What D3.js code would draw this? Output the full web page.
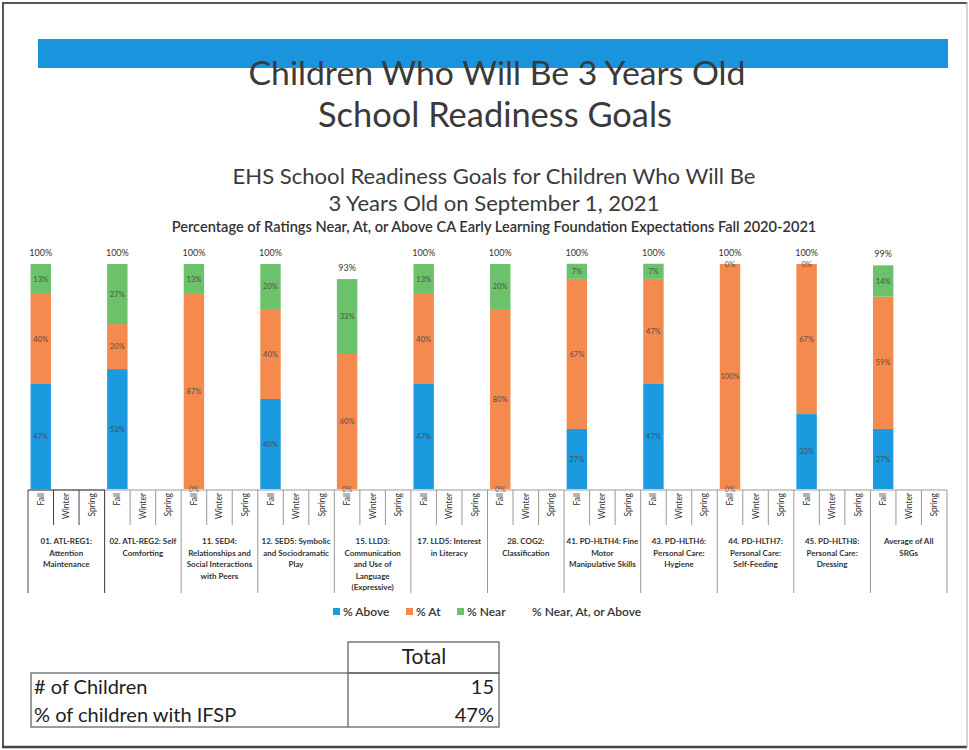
<!DOCTYPE html>
<html>
<head>
<meta charset="utf-8">
<script src="https://cdn.jsdelivr.net/npm/d3@7"></script>
<style>
  html, body { margin: 0; padding: 0; background: #fff; }
  svg { display: block; font-family: Lato, "Open Sans", sans-serif; }
</style>
</head>
<body>
<svg id="chart" width="969" height="750"></svg>
<script>
// ---------------- DATA ----------------
const categoryLabels = [
  ["01. ATL-REG1:", "Attention", "Maintenance"],
  ["02. ATL-REG2: Self", "Comforting"],
  ["11. SED4:", "Relationships and", "Social Interactions", "with Peers"],
  ["12. SED5: Symbolic", "and Sociodramatic", "Play"],
  ["15. LLD3:", "Communication", "and Use of", "Language", "(Expressive)"],
  ["17. LLD5: Interest", "in Literacy"],
  ["28. COG2:", "Classification"],
  ["41. PD-HLTH4: Fine", "Motor", "Manipulative Skills"],
  ["43. PD-HLTH6:", "Personal Care:", "Hygiene"],
  ["44. PD-HLTH7:", "Personal Care:", "Self-Feeding"],
  ["45. PD-HLTH8:", "Personal Care:", "Dressing"],
  ["Average of All", "SRGs"]
];
const seasons = ["Fall", "Winter", "Spring"];
// Fall values (Winter / Spring not yet rated)
const pctAbove = [46.7, 53.3, 0, 40, 0, 46.7, 0, 26.7, 46.7, 0, 33.3, 26.7];
const pctAt    = [40, 20, 86.7, 40, 60, 40, 80, 66.7, 46.7, 100, 66.7, 58.8];
const pctNear  = [13.3, 26.7, 13.3, 20, 33.3, 13.3, 20, 6.7, 6.7, 0, 0, 13.9];
const pctTotal = [100, 100, 100, 100, 93.3, 100, 100, 100, 100, 100, 100, 99.4];
const seriesNames = ["% Above", "% At", "% Near", "% Near, At, or Above"];
const seriesColors = ["#1b9ae0", "#f58a4e", "#6cc26a", null];

const titleLines = ["Children Who Will Be 3 Years Old", "School Readiness Goals"];
const chartTitleLines = ["EHS School Readiness Goals for Children Who Will Be", "3 Years Old on September 1, 2021"];
const chartSubtitle = "Percentage of Ratings Near, At, or Above CA Early Learning Foundation Expectations Fall 2020-2021";

const tableHeader = "Total";
const tableRowLabels = ["# of Children", "% of children with IFSP"];
const tableRowValues = ["15", "47%"];

// ---------------- DRAW ----------------
const svg = d3.select("#chart");
const fmt = d3.format(".0%");

function fitText(sel, targetWidth) {
  const node = sel.node();
  const fs = parseFloat(sel.attr("font-size"));
  const len = node.getComputedTextLength();
  if (len > 0) sel.attr("font-size", (fs * targetWidth / len).toFixed(2));
  return sel;
}

// page frame (scanned page edge)
svg.append("line").attr("x1", 2).attr("x2", 967).attr("y1", 3).attr("y2", 3).attr("stroke", "#555").attr("stroke-width", 2);
svg.append("line").attr("x1", 3).attr("x2", 3).attr("y1", 2).attr("y2", 748).attr("stroke", "#555").attr("stroke-width", 2);
svg.append("line").attr("x1", 2).attr("x2", 967).attr("y1", 747).attr("y2", 747).attr("stroke", "#444").attr("stroke-width", 2.5);
svg.append("line").attr("x1", 967).attr("x2", 967).attr("y1", 2).attr("y2", 748).attr("stroke", "#aaa").attr("stroke-width", 1);

// blue banner
svg.append("rect").attr("x", 38).attr("y", 39).attr("width", 910).attr("height", 29).attr("fill", "#1a94dc");

// slide titles
const t1 = svg.append("text").attr("x", 497).attr("y", 85).attr("text-anchor", "middle")
  .attr("font-size", 31).attr("fill", "#3a3a3a").text(titleLines[0]);
fitText(t1, 497);
const t2 = svg.append("text").attr("x", 495).attr("y", 127).attr("text-anchor", "middle")
  .attr("font-size", 31).attr("fill", "#3a3a3a").text(titleLines[1]);
fitText(t2, 354);

// chart titles
const c1 = svg.append("text").attr("x", 494).attr("y", 184).attr("text-anchor", "middle")
  .attr("font-size", 20).attr("fill", "#3a3a3a").text(chartTitleLines[0]);
fitText(c1, 523);
const c2 = svg.append("text").attr("x", 494).attr("y", 211).attr("text-anchor", "middle")
  .attr("font-size", 20).attr("fill", "#3a3a3a").text(chartTitleLines[1]);
fitText(c2, 331);
const c3 = svg.append("text").attr("x", 494).attr("y", 232).attr("text-anchor", "middle")
  .attr("font-size", 12).attr("font-weight", 600).attr("fill", "#333").text(chartSubtitle);
fitText(c3, 645);

// scales
const x = d3.scaleBand().domain(d3.range(categoryLabels.length)).range([28, 947]).padding(0);
const xs = d3.scaleBand().domain(seasons).range([0, x.bandwidth()]).padding(0);
const barW = xs.bandwidth() * 0.8;
const y = d3.scaleLinear().domain([0, 100]).range([489, 264]);

const rows = categoryLabels.map((c, i) => ({ i, above: pctAbove[i], at: pctAt[i], near: pctNear[i], total: pctTotal[i] }));
const keys = ["above", "at", "near"];
const stacked = d3.stack().keys(keys)(rows);

const gBars = svg.append("g");
stacked.forEach((layer, k) => {
  gBars.selectAll(null).data(layer).enter().append("rect")
    .attr("x", d => x(d.data.i) + xs("Fall") + (xs.bandwidth() - barW) / 2)
    .attr("y", d => y(d[1]))
    .attr("width", barW)
    .attr("height", d => Math.max(0, y(d[0]) - y(d[1])))
    .attr("fill", seriesColors[k]);
});

// segment data labels
stacked.forEach((layer, k) => {
  gBars.selectAll(null).data(layer).enter().append("text")
    .attr("x", d => x(d.data.i) + xs("Fall") + xs.bandwidth() / 2)
    .attr("y", d => (y(d[0]) + y(d[1])) / 2 + 2.7)
    .attr("text-anchor", "middle")
    .attr("font-size", 7.5)
    .attr("font-weight", 600)
    .attr("fill", "#454545")
    .attr("fill-opacity", 0.8)
    .text(d => fmt((d[1] - d[0]) / 100));
});

// totals above bars
gBars.selectAll(null).data(rows).enter().append("text")
  .attr("x", d => x(d.i) + xs("Fall") + xs.bandwidth() / 2)
  .attr("y", d => y(d.total) - 8)
  .attr("text-anchor", "middle")
  .attr("font-size", 9)
  .attr("fill", "#333")
  .text(d => fmt(d.total / 100));

// multi-level category axis
const gAx = svg.append("g");
const axisY = 490;
gAx.append("line").attr("x1", x.range()[0]).attr("x2", x.range()[1]).attr("y1", axisY).attr("y2", axisY)
  .attr("stroke", "#999").attr("stroke-width", 1);
x.domain().forEach(i => {
  const x0 = x(i);
  const col = i === 0 ? "#444" : "#999";
  // category separator
  gAx.append("line").attr("x1", x0).attr("x2", x0).attr("y1", axisY).attr("y2", 593).attr("stroke", col);
  seasons.forEach((s, j) => {
    if (j > 0) gAx.append("line").attr("x1", x0 + xs(s)).attr("x2", x0 + xs(s))
      .attr("y1", axisY).attr("y2", 525).attr("stroke", col);
    gAx.append("text")
      .attr("transform", `translate(${x0 + xs(s) + xs.bandwidth() / 2 + 3},${axisY + 3}) rotate(-90)`)
      .attr("text-anchor", "end").attr("font-size", 8.5).attr("fill", "#333").text(s);
  });
  // category label clipped to its box
  const cid = "clip" + i;
  svg.append("clipPath").attr("id", cid).append("rect")
    .attr("x", x0 + 1).attr("y", 526).attr("width", x.bandwidth() - 2).attr("height", 70);
  const tg = gAx.append("g").attr("clip-path", `url(#${cid})`);
  categoryLabels[i].forEach((line, li) => {
    tg.append("text").attr("x", x0 + x.bandwidth() / 2).attr("y", 544 + li * 11.5)
      .attr("text-anchor", "middle").attr("font-size", 8).attr("font-weight", 700)
      .attr("fill", "#333").text(line);
  });
});
// darker top edge and right edge for the first (selected) category box
gAx.append("line").attr("x1", x(0)).attr("x2", x(1)).attr("y1", axisY).attr("y2", axisY).attr("stroke", "#444");
gAx.append("line").attr("x1", x(1)).attr("x2", x(1)).attr("y1", axisY).attr("y2", 593).attr("stroke", "#444");
gAx.append("line").attr("x1", x.range()[1]).attr("x2", x.range()[1]).attr("y1", axisY).attr("y2", 593).attr("stroke", "#999");

// legend
const legendX = [333, 406, 457, 532];
const gLeg = svg.append("g");
seriesNames.forEach((name, k) => {
  let tx = legendX[k];
  if (seriesColors[k]) {
    gLeg.append("rect").attr("x", legendX[k]).attr("y", 608).attr("width", 7).attr("height", 7).attr("fill", seriesColors[k]);
    tx += 10;
  }
  gLeg.append("text").attr("x", tx).attr("y", 616).attr("font-size", 12).attr("font-weight", 600)
    .attr("fill", "#333").text(name);
});

// summary table
const gT = svg.append("g").attr("fill", "none").attr("stroke", "#666").attr("stroke-width", 1.3);
gT.append("rect").attr("x", 348).attr("y", 642).attr("width", 151).attr("height", 31);
gT.append("rect").attr("x", 31).attr("y", 673).attr("width", 468).attr("height", 54);
gT.append("line").attr("x1", 348).attr("x2", 348).attr("y1", 673).attr("y2", 727);
svg.append("text").attr("x", 424).attr("y", 664).attr("text-anchor", "middle").attr("font-size", 21)
  .attr("fill", "#222").text(tableHeader);
tableRowLabels.forEach((lab, r) => {
  svg.append("text").attr("x", 34).attr("y", 694 + r * 28).attr("font-size", 20).attr("fill", "#222").text(lab);
  svg.append("text").attr("x", 494).attr("y", 694 + r * 28).attr("text-anchor", "end").attr("font-size", 20)
    .attr("fill", "#222").text(tableRowValues[r]);
});
</script>
</body>
</html>
